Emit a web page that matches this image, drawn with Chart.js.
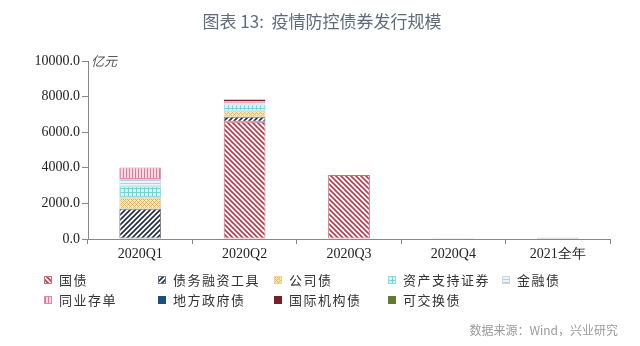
<!DOCTYPE html>
<html>
<head>
<meta charset="utf-8">
<script src="https://cdn.jsdelivr.net/npm/chart.js@4/dist/chart.umd.min.js"></script>
<style>
  html, body { margin: 0; padding: 0; background: #ffffff; }
  #wrap { position: relative; width: 640px; height: 346px; }
  canvas { display: block; }
</style>
</head>
<body>
<div id="wrap"><canvas id="c" width="640" height="346"></canvas></div>
<script>
// Categories and issuance (亿元) per bond type
const categories = ['2020Q1', '2020Q2', '2020Q3', '2020Q4', '2021全年'];
const seriesNames = ['国债', '债务融资工具', '公司债', '资产支持证券', '金融债', '同业存单', '地方政府债', '国际机构债', '可交换债'];
const guozhai      = [null, 6590, 3600, null, null];
const zhaiwuRongzi = [1700, 280, null, null, 70];
const gongsizhai   = [620, 340, null, null, null];
const abs          = [650, 340, null, 60, null];
const jinrongzhai  = [400, 60, null, null, null];
const tongyeCundan = [650, 130, null, null, null];
const difangZhengfu = [null, null, null, null, null];
const guojiJigou   = [null, 100, null, null, null];
const kejiaohuan   = [null, null, null, null, null];
const yTicks = [0, 2000, 4000, 6000, 8000, 10000];

// Fill patterns
function makeCanvas(s) {
  const c = document.createElement('canvas');
  c.width = s; c.height = s;
  return c;
}
function diagonal(color, bg, back) {
  const s = 5, c = makeCanvas(s), g = c.getContext('2d');
  g.fillStyle = bg; g.fillRect(0, 0, s, s);
  g.strokeStyle = color; g.lineWidth = 1.6;
  g.beginPath();
  if (back) {
    g.moveTo(-1, -1); g.lineTo(s + 1, s + 1);
    g.moveTo(s - 1, -1); g.lineTo(s + 1, 1);
    g.moveTo(-1, s - 1); g.lineTo(1, s + 1);
  } else {
    g.moveTo(-1, s + 1); g.lineTo(s + 1, -1);
    g.moveTo(-1, 1); g.lineTo(1, -1);
    g.moveTo(s - 1, s + 1); g.lineTo(s + 1, s - 1);
  }
  g.stroke();
  return g.createPattern(c, 'repeat');
}
function dots(color, bg) {
  const s = 4, c = makeCanvas(s), g = c.getContext('2d');
  g.fillStyle = bg; g.fillRect(0, 0, s, s);
  g.fillStyle = color;
  g.fillRect(0, 0, 1, 1); g.fillRect(2, 2, 1, 1);
  g.fillRect(1, 1, 1, 1); g.fillRect(3, 3, 1, 1);
  g.fillRect(3, 1, 1, 1); g.fillRect(1, 3, 1, 1);
  return g.createPattern(c, 'repeat');
}
function grid(color, bg, s) {
  const c = makeCanvas(s), g = c.getContext('2d');
  g.fillStyle = bg; g.fillRect(0, 0, s, s);
  g.fillStyle = color;
  g.fillRect(0, 0, s, 1); g.fillRect(0, 0, 1, s);
  return g.createPattern(c, 'repeat');
}
function hlines(color, bg) {
  const s = 3, c = makeCanvas(s), g = c.getContext('2d');
  g.fillStyle = bg; g.fillRect(0, 0, s, s);
  g.fillStyle = color; g.fillRect(0, 0, s, 1);
  return g.createPattern(c, 'repeat');
}
function vlines(color, bg) {
  const s = 3, c = makeCanvas(s), g = c.getContext('2d');
  g.fillStyle = bg; g.fillRect(0, 0, s, s);
  g.fillStyle = color; g.fillRect(0, 0, 1, s);
  return g.createPattern(c, 'repeat');
}

const styles = [
  { bg: diagonal('#b83a4c', '#ffffff', true), border: '#d46a78' },
  { bg: diagonal('#222b40', '#ffffff', false), border: '#707888' },
  { bg: dots('#e6b35e', '#fbe6b4'), border: '#f0cf90' },
  { bg: grid('#6fd3d6', '#d2f4f4', 4), border: '#8fdede' },
  { bg: hlines('#b6cde0', '#eef4fa'), border: '#c8d8e6' },
  { bg: vlines('#e07898', '#f8dbe4'), border: '#e48aa6' },
  { bg: '#1f4e79', border: '#1f4e79' },
  { bg: '#7a1f24', border: '#7a1f24' },
  { bg: '#5f7b2e', border: '#5f7b2e' }
];
const values = [guozhai, zhaiwuRongzi, gongsizhai, abs, jinrongzhai, tongyeCundan, difangZhengfu, guojiJigou, kejiaohuan];

const datasets = seriesNames.map((name, i) => ({
  label: name,
  data: values[i],
  backgroundColor: styles[i].bg,
  borderColor: styles[i].border,
  borderWidth: 1,
  borderSkipped: false,
  barPercentage: 0.4,
  categoryPercentage: 1.0
}));

// Title, unit, legend and source drawn on the same canvas
const decor = {
  id: 'decor',
  afterDraw(chart) {
    const ctx = chart.ctx;
    ctx.save();
    ctx.textBaseline = 'middle';
    ctx.textAlign = 'center';
    ctx.fillStyle = '#5d6b7c';
    ctx.font = '17px "Noto Sans CJK SC"';
    ctx.fillText('图表 13:  疫情防控债券发行规模', 322, 22);

    ctx.textAlign = 'left';
    ctx.fillStyle = '#555555';
    ctx.font = 'italic 13px "Noto Sans CJK SC"';
    ctx.fillText('亿元', 91, 61);

    const cols = [44, 158, 274, 388, 502];
    const rows = [280, 300];
    ctx.font = '13px "Noto Sans CJK SC"';
    ctx.letterSpacing = '1.5px';
    chart.data.datasets.forEach((ds, i) => {
      const x = cols[i % 5], y = rows[Math.floor(i / 5)];
      ctx.fillStyle = ds.backgroundColor;
      ctx.fillRect(x, y - 4, 8, 8);
      ctx.strokeStyle = ds.borderColor;
      ctx.lineWidth = 1;
      ctx.strokeRect(x + 0.5, y - 3.5, 7, 7);
      ctx.fillStyle = '#333333';
      ctx.fillText(ds.label, x + 15, y);
    });
    ctx.letterSpacing = '0px';

    ctx.textAlign = 'right';
    ctx.fillStyle = '#9a9a9a';
    ctx.font = '12px "Noto Sans CJK SC"';
    ctx.fillText('数据来源：Wind，兴业研究', 618, 330);
    ctx.restore();
  }
};

new Chart(document.getElementById('c'), {
  type: 'bar',
  data: { labels: categories, datasets },
  plugins: [decor],
  options: {
    responsive: false,
    animation: false,
    layout: { padding: { top: 61, right: 30, left: 0, bottom: 0 } },
    plugins: { legend: { display: false }, tooltip: { enabled: false }, title: { display: false } },
    scales: {
      x: {
        stacked: true,
        offset: true,
        grid: { display: true, offset: true, drawOnChartArea: false, drawTicks: true, tickLength: 5, color: '#888888' },
        border: { display: true, color: '#888888', width: 1 },
        ticks: { color: '#222222', font: { family: '"Liberation Serif"', size: 14 }, padding: 2 },
        afterFit(s) { s.height = 107; }
      },
      y: {
        stacked: true,
        min: 0,
        max: 10000,
        afterBuildTicks(s) { s.ticks = yTicks.map(v => ({ value: v })); },
        grid: { display: true, drawOnChartArea: false, drawTicks: true, tickLength: 6, color: '#888888' },
        border: { display: true, color: '#888888', width: 1 },
        ticks: {
          color: '#222222',
          font: { family: '"Liberation Serif"', size: 14 },
          padding: 2,
          callback: v => Number(v).toFixed(1)
        },
        afterFit(s) { s.width = 88; }
      }
    }
  }
});
</script>
</body>
</html>
